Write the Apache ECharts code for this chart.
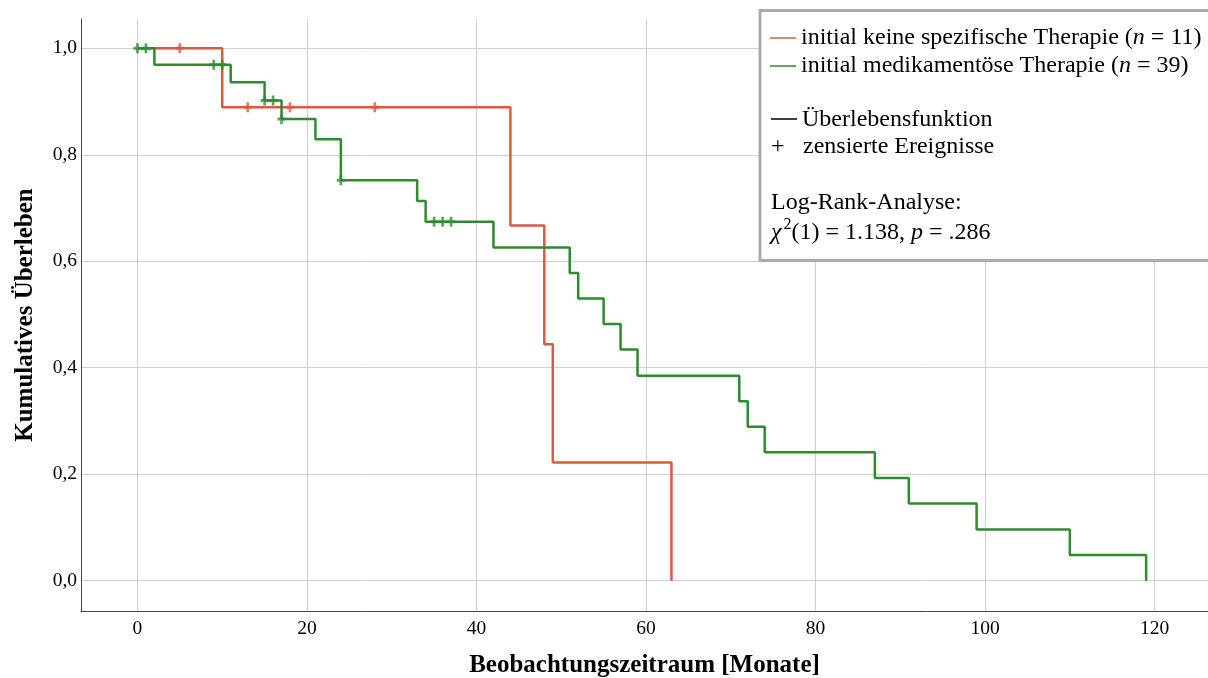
<!DOCTYPE html>
<html>
<head>
<meta charset="utf-8">
<title>Kaplan-Meier</title>
<script src="https://cdn.jsdelivr.net/npm/echarts@6/dist/echarts.min.js"></script>
<style>
  html, body { margin: 0; padding: 0; background: #fff; }
  #chart { width: 1208px; height: 678px; }
</style>
</head>
<body>
<div id="chart"></div>
<script>
const groupNames = [
  'initial keine spezifische Therapie (n = 11)',
  'initial medikamentöse Therapie (n = 39)'
];

// keine spezifische Therapie
const redTimes = [0, 10, 44, 48, 49, 63];
const redSurvival = [1, 0.889, 0.667, 0.444, 0.222, 0];
const redCensorTimes = [5, 13, 18, 28];
const redCensorSurvival = [1, 0.889, 0.889, 0.889];

// medikamentöse Therapie
const greenTimes = [0, 2, 11, 15, 17, 21, 24, 33, 34, 42, 51, 52, 55, 57, 59, 71, 72, 74, 87, 91, 99, 110, 119];
const greenSurvival = [1, 0.969, 0.936, 0.902, 0.867, 0.829, 0.752, 0.713, 0.674, 0.626, 0.578, 0.530,
  0.482, 0.434, 0.385, 0.337, 0.289, 0.241, 0.193, 0.145, 0.096, 0.048, 0];
const greenCensorTimes = [0, 1, 9, 10, 15, 16, 17, 24, 35, 36, 37];
const greenCensorSurvival = [1, 1, 0.969, 0.969, 0.902, 0.902, 0.867, 0.752, 0.674, 0.674, 0.674];

const xTicks = [0, 20, 40, 60, 80, 100, 120];
const yTicks = [0, 0.2, 0.4, 0.6, 0.8, 1.0];

const RED = '#d95a3c';
const GREEN = '#2e8b2e';
const FONT = 'Liberation Serif';
const PLUS = 'path://M3,0H6V3.5H9V6.5H6V10H3V6.5H0V3.5H3Z';

const zip = (xs, ys) => xs.map((x, i) => [x, ys[i]]);
const near = (v, list) => list.some(t => Math.abs(t - v) < 1e-6);

const chart = echarts.init(document.getElementById('chart'), null, { renderer: 'canvas' });

const legendText = (text, x, y) => ({
  type: 'text', z: 10, x: x, y: y,
  style: { text: text, fontFamily: FONT, fontSize: 24, fill: '#000', verticalAlign: 'middle' }
});

chart.setOption({
  backgroundColor: '#fff',
  animation: false,
  color: [RED, GREEN],
  textStyle: { fontFamily: FONT },
  grid: { left: 81, right: 0, top: 19, bottom: 67, containLabel: false, outerBoundsMode: 'none' },
  legend: {
    data: groupNames,
    orient: 'vertical',
    left: 770,
    top: 26,
    padding: 0,
    icon: 'rect',
    itemWidth: 26,
    itemHeight: 1.5,
    itemGap: 4,
    z: 10,
    textStyle: {
      fontFamily: FONT, fontSize: 24, color: '#000', lineHeight: 24,
      rich: { i: { fontFamily: FONT, fontSize: 24, fontStyle: 'italic', color: '#000', lineHeight: 24 } }
    },
    formatter: name => name.replace('(n =', '({i|n} =')
  },
  xAxis: {
    type: 'value',
    min: -6.66,
    max: 126.3,
    splitNumber: 6,
    name: 'Beobachtungszeitraum [Monate]',
    nameLocation: 'middle',
    nameGap: 42,
    nameTextStyle: { fontFamily: FONT, fontSize: 25, fontWeight: 'bold', color: '#000' },
    axisLine: { show: true, onZero: false, lineStyle: { color: '#444', width: 1 } },
    axisTick: { show: false },
    axisLabel: {
      fontFamily: FONT, fontSize: 19.5, color: '#000', margin: 8,
      showMinLabel: false, showMaxLabel: false,
      formatter: v => near(v, xTicks) ? String(Math.round(v)) : ''
    },
    splitLine: { show: true, showMinLine: false, showMaxLine: false, lineStyle: { color: '#cfcfcf', width: 1 } }
  },
  yAxis: {
    type: 'value',
    min: -0.057,
    max: 1.055,
    splitNumber: 5,
    name: 'Kumulatives Überleben',
    nameLocation: 'middle',
    nameGap: 43,
    nameTextStyle: { fontFamily: FONT, fontSize: 25, fontWeight: 'bold', color: '#000' },
    axisLine: { show: true, onZero: false, lineStyle: { color: '#444', width: 1 } },
    axisTick: { show: false },
    axisLabel: {
      fontFamily: FONT, fontSize: 19.5, color: '#000', margin: 4,
      showMinLabel: false, showMaxLabel: false,
      formatter: v => near(v, yTicks) ? v.toFixed(1).replace('.', ',') : ''
    },
    splitLine: { show: true, showMinLine: false, showMaxLine: false, lineStyle: { color: '#cfcfcf', width: 1 } }
  },
  series: [
    {
      name: groupNames[0],
      type: 'line',
      step: 'end',
      showSymbol: false,
      z: 3,
      itemStyle: { color: RED },
      lineStyle: { color: RED, width: 2.5 },
      data: zip(redTimes, redSurvival)
    },
    {
      name: 'zensiert 1',
      type: 'scatter',
      symbol: PLUS,
      symbolSize: [8, 10],
      z: 4,
      itemStyle: { color: RED },
      data: zip(redCensorTimes, redCensorSurvival)
    },
    {
      name: groupNames[1],
      type: 'line',
      step: 'end',
      showSymbol: false,
      z: 5,
      itemStyle: { color: GREEN },
      lineStyle: { color: GREEN, width: 2.5 },
      data: zip(greenTimes, greenSurvival)
    },
    {
      name: 'zensiert 2',
      type: 'scatter',
      symbol: PLUS,
      symbolSize: [8, 10],
      z: 6,
      itemStyle: { color: GREEN },
      data: zip(greenCensorTimes, greenCensorSurvival)
    }
  ],
  graphic: [
    {
      type: 'rect',
      z: 8,
      shape: { x: 760, y: 10.5, width: 460, height: 250 },
      style: { fill: '#fff', stroke: '#ababab', lineWidth: 3 }
    },
    {
      type: 'line',
      z: 10,
      shape: { x1: 771, y1: 119, x2: 797, y2: 119 },
      style: { stroke: '#000', lineWidth: 1.5 }
    },
    legendText('Überlebensfunktion', 802, 120),
    legendText('+', 771, 147),
    legendText('zensierte Ereignisse', 803, 147),
    legendText('Log-Rank-Analyse:', 771, 203),
    {
      type: 'text', z: 10, x: 771, y: 231,
      style: {
        text: '{i|χ}{s|2}{t|(1) = 1.138, }{i|p}{t| = .286}',
        fontFamily: FONT, fontSize: 24, fill: '#000', verticalAlign: 'middle',
        rich: {
          t: { fontFamily: FONT, fontSize: 24, fill: '#000', lineHeight: 28, verticalAlign: 'bottom' },
          i: { fontFamily: FONT, fontSize: 24, fontStyle: 'italic', fill: '#000', lineHeight: 28, verticalAlign: 'bottom' },
          s: { fontFamily: FONT, fontSize: 16, fill: '#000', lineHeight: 28, verticalAlign: 'top', padding: [0, 0, 0, 2] }
        }
      }
    }
  ]
});
</script>
</body>
</html>
